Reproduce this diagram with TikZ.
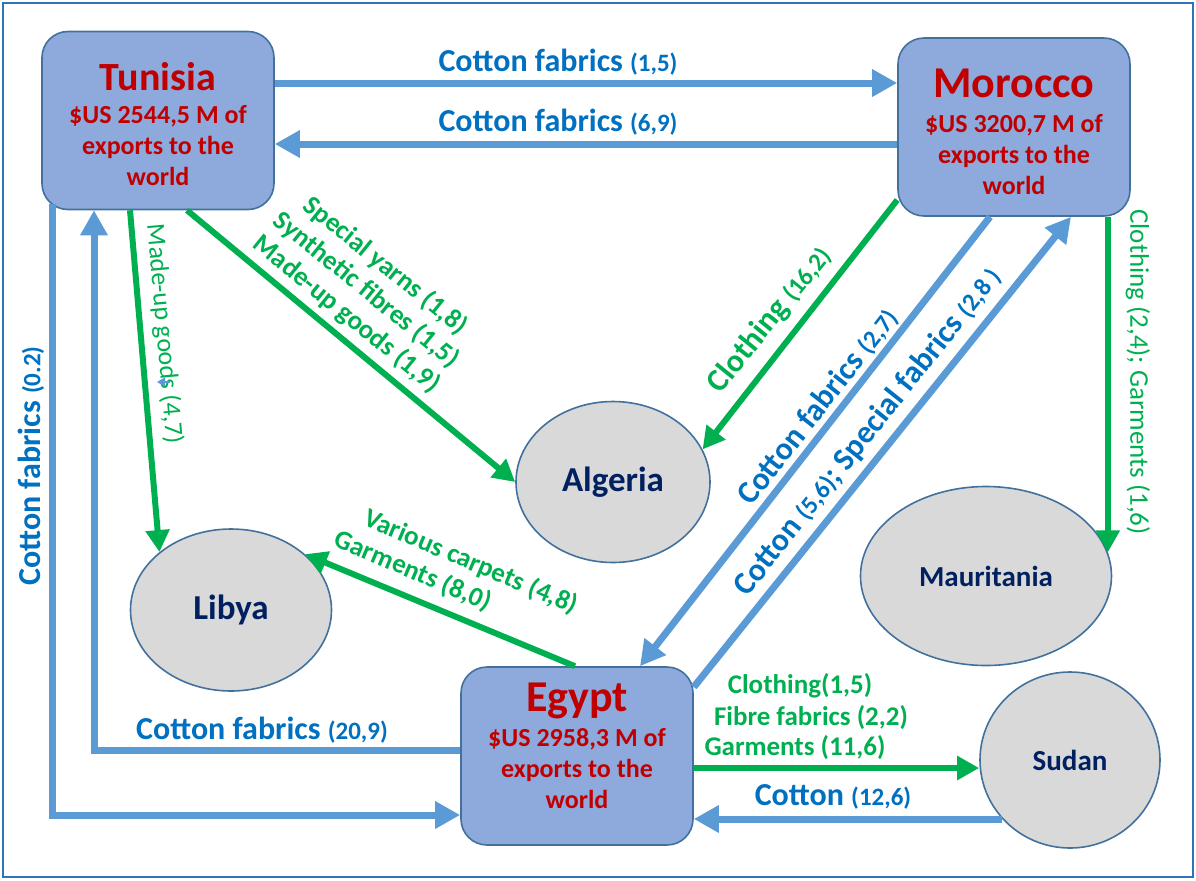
\documentclass[tikz,border=0pt]{standalone}
\usepackage{fontspec}
\setmainfont{Carlito}
\usetikzlibrary{arrows.meta,shapes.geometric}
\definecolor{flowblue}{HTML}{5B9BD5}
\definecolor{labelblue}{HTML}{0070C0}
\definecolor{flowgreen}{HTML}{00B050}
\definecolor{titlered}{HTML}{C00000}
\definecolor{navy}{HTML}{002060}
\definecolor{boxfill}{HTML}{8EA9DB}
\definecolor{edgeblue}{HTML}{41719C}
\definecolor{framecol}{HTML}{2E75B6}
\definecolor{partnerfill}{HTML}{D9D9D9}
% smaller figures in brackets after a product name
\newcommand\flowval[1]{{\fontsize{12.5}{15}\selectfont #1}}

\begin{document}
\begin{tikzpicture}[x=0.5pt,y=-0.5pt,
  country/.style={draw=edgeblue,line width=0.8pt,fill=boxfill,rounded corners=13pt,
    minimum width=116pt,minimum height=89pt,inner sep=0pt},
  countrytext/.style={text=titlered,font=\fontsize{13}{15.5}\selectfont\bfseries,
    align=center,inner sep=0pt},
  partner/.style={ellipse,draw=edgeblue,line width=0.8pt,fill=partnerfill,
    inner sep=0pt,text=navy},
  blueflow/.style={draw=flowblue,line width=3.5pt,-{Triangle[length=12.5pt,width=13pt]}},
  greenflow/.style={draw=flowgreen,line width=3pt,-{Triangle[length=11pt,width=11.5pt]}},
  bluelabel/.style={text=labelblue,font=\fontsize{16}{19}\selectfont\bfseries,inner sep=0pt},
  greenlabel/.style={text=flowgreen,font=\fontsize{13.5}{15.5}\selectfont\bfseries,
    inner sep=0pt,align=center},
]
\useasboundingbox (0,0) rectangle (1196,880);
\draw[framecol,line width=1.3pt] (3,3) rectangle (1193,877);

% exporting countries
\node[country] (tun) at (158,120.5) {};
\node[countrytext] (tuntxt) at (158,124) {{\fontsize{20}{24}\selectfont Tunisia}\\[1pt]
  \$US 2544,5 M of\\exports to the\\world};
\node[country] (mor) at (1014,127) {};
\node[countrytext] (mortxt) at (1014,132) {{\fontsize{22}{26}\selectfont Morocco}\\[2pt]
  \$US 3200,7 M of\\exports to the\\world};
\node[country] (egy) at (577,756) {};
\node[countrytext] (egytxt) at (577,746) {{\fontsize{22}{26}\selectfont Egypt}\\[2pt]
  \$US 2958,3 M of\\exports to the\\world};

% partner countries
\node[partner,minimum width=97pt,minimum height=80.5pt,
  font=\fontsize{17.5}{21}\selectfont\bfseries] (alg) at (613,482) {Algeria};
\node[partner,minimum width=100.5pt,minimum height=81pt,
  font=\fontsize{17.5}{21}\selectfont\bfseries] (lib) at (231,610) {Libya};
\node[partner,minimum width=125.5pt,minimum height=89.5pt,
  font=\fontsize{14.5}{17}\selectfont\bfseries] (mau) at (986,576) {Mauritania};
\node[partner,minimum width=90pt,minimum height=88pt,
  font=\fontsize{14.5}{17}\selectfont\bfseries] (sud) at (1070,760) {Sudan};

% cotton and fabric flows
\draw[blueflow] (tun.east |- 0,83) -- (mor.west |- 0,83);
\draw[blueflow] (mor.west |- 0,144) -- (tun.east |- 0,144);
\draw[blueflow,shorten <=-3pt] (tun.south -| 52,0) |- (egy.west |- 0,815);
\draw[blueflow] (egy.west |- 0,750) -| (tun.south -| 94,0);
\draw[blueflow] (mor.south -| 990,0) -- (egy.north -| 640,0);
\draw[blueflow] (egy.east |- 0,687) -- (mor.south -| 1071,0);
\draw[blueflow] (sud.221) -- (egy.east |- sud.221);

% clothing and made-up goods flows
\draw[greenflow] (tun.south -| 130,0) -- (lib.141);
\draw[greenflow] (tun.south -| 187,0) -- (alg.west);
\draw[greenflow] (mor.212) -- (alg.20);
\draw[greenflow] (mau.11 |- mor.south) -- (mau.11);
\draw[greenflow] (egy.north -| 575,0) -- (lib.37);
\draw[greenflow] (egy.east |- 0,768) -- (sud.west |- 0,768);

% flow labels
\node[bluelabel] (l1) at (558,62) {Cotton fabrics \flowval{(1,5)}};
\node[bluelabel] (l2) at (558,122) {Cotton fabrics \flowval{(6,9)}};
\node[bluelabel,rotate=90] (l3) at (31,466) {Cotton fabrics \flowval{(0.2)}};
\node[bluelabel] (l4) at (262,730) {Cotton fabrics \flowval{(20,9)}};
\node[bluelabel] (l5) at (833,797) {Cotton \flowval{(12,6)}};
\node[bluelabel,rotate=52] (l6) at (818,407) {Cotton fabrics \flowval{(2,7)}};
\node[bluelabel,rotate=51.5] (l7) at (868,432) {Cotton \flowval{(5,6)}; Special fabrics \flowval{(2,8 )}};

\node[greenlabel,rotate=-39] (g1) at (366,290) {Special yarns (1,8)\\Synthetic fibres (1,5)\\Made-up goods (1,9)};
\node[greenlabel,font=\fontsize{13}{15.5}\selectfont,rotate=-85] (g2) at (164,334) {Made-up goods (4,7)};
\node[greenlabel,font=\fontsize{13.5}{16}\selectfont,rotate=-90] (g3) at (1138,372) {Clothing (2,4); Garments (1,6)};
\node[greenlabel,font=\fontsize{16}{19}\selectfont\bfseries,rotate=51] (g4) at (770,320) {Clothing \flowval{(16,2)}};
\node[greenlabel,rotate=-23] (g5) at (471,562) {Various carpets (4,8)};
\node[greenlabel,rotate=-23] (g6) at (413,571) {Garments (8,0)};
\node[greenlabel] (g7) at (800,686) {Clothing(1,5)};
\node[greenlabel] (g8) at (811,718) {Fibre fabrics (2,2)};
\node[greenlabel] (g9) at (795,748) {Garments (11,6)};

% small stray arrow mark beside the made-up goods label
\draw[flowblue,line width=0.8pt,-{Triangle[length=4pt,width=4.5pt]}] (170,382) -- (157,382);
\end{tikzpicture}
\end{document}
